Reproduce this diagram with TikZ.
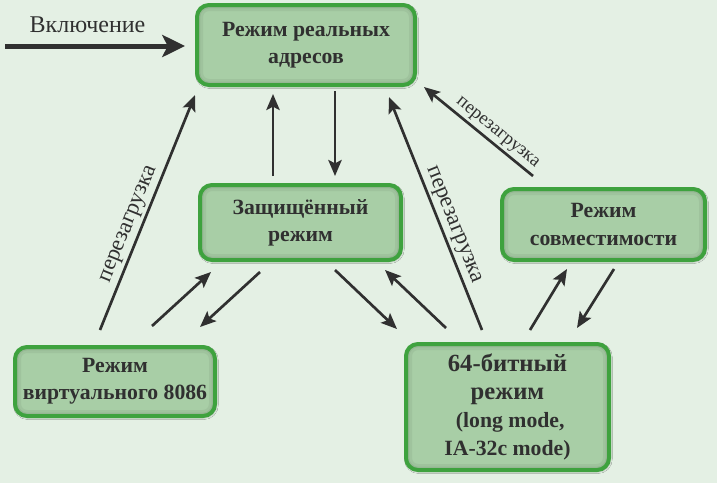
\documentclass[tikz,border=0pt]{standalone}
\usepackage{fontspec}
\setmainfont{Liberation Serif}
\usetikzlibrary{arrows.meta,shadows.blur}
\definecolor{bgc}{RGB}{228,240,228}
\definecolor{boxfill}{RGB}{168,206,166}
\definecolor{boxline}{RGB}{62,162,62}
\definecolor{ink}{RGB}{48,48,48}
\tikzset{
  modebox/.style={rectangle, rounded corners=9pt, draw=boxline, line width=3pt,
    fill=boxfill, align=center, text=ink, inner sep=0pt,
    font=\bfseries\fontsize{16.3}{20.3}\selectfont,
    execute at begin node={\rule{0pt}{20pt}},
    blur shadow={shadow xshift=0.6pt, shadow yshift=-0.8pt, shadow blur steps=6, shadow blur extra rounding=2pt, shadow opacity=45},
    path picture={
      \draw[line width=9pt, black, opacity=0.05, rounded corners=9pt] (path picture bounding box.south west) rectangle (path picture bounding box.north east);
      \draw[line width=5pt, black, opacity=0.06, rounded corners=9pt] (path picture bounding box.south west) rectangle (path picture bounding box.north east);
    }},
  conn/.style={draw=ink, line width=2pt, -{Stealth[length=12pt,width=10pt,inset=2.5pt]}},
  lbl/.style={text=ink, font=\fontsize{17}{20}\selectfont, inner sep=2pt},
}
\begin{document}
\begin{tikzpicture}[x=0.75pt,y=-0.75pt]
\fill[bgc] (0,0) rectangle (717,483);
\useasboundingbox (0,0) rectangle (717,483);

\node[modebox, minimum width=163.5pt, minimum height=60pt] (real) at (306,45) {Режим реальных\\адресов};
\node[modebox, minimum width=150.75pt, minimum height=56.25pt] (prot) at (300.5,222.5) {Защищённый\\режим};
\node[modebox, minimum width=152.25pt, minimum height=94.5pt, font=\bfseries\fontsize{18.5}{21}\selectfont] (b64) at (507.5,407) {64-битный\\режим\\ \fontsize{16.3}{21}\selectfont\ (long mode,\\ \fontsize{16.3}{21}\selectfont IA-32c mode)};
\node[modebox, minimum width=150pt, minimum height=51.75pt] (v86) at (115,381.5) {Режим\\виртуального 8086};
\node[modebox, minimum width=152.25pt, minimum height=53.25pt] (compat) at (603.5,224.5) {Режим\\совместимости};

\node[text=ink, font=\fontsize{18}{20}\selectfont, anchor=base] (on) at (87.5,32) {Включение};
\coordinate (start) at (5,46);
\draw[draw=ink, line width=3.75pt, -{Stealth[length=17pt,width=16.5pt,inset=4pt]}] (start) -- ([shift={(-10,1)}]real.west);

% v86 <-> real / prot
\draw[conn] ([shift={(-15,-15)}]v86.north) -- node[lbl, pos=0.43, sloped, above] (l1) {перезагрузка} ([shift={(-111,8)}]real.south);
\draw[conn] ([shift={(37,-19)}]v86.north) -- ([shift={(-89.5,10)}]prot.south);
\draw[conn] ([shift={(-40.5,10)}]prot.south) -- ([shift={(85,-18)}]v86.north);

% prot <-> real
\draw[conn] ([shift={(-27.5,-7)}]prot.north) -- ([shift={(-33,7)}]real.south);
\draw[conn] ([shift={(29,4)}]real.south) -- ([shift={(34.5,-7)}]prot.north);

% prot <-> b64
\draw[conn] ([shift={(34.5,8)}]prot.south) -- ([shift={(-110.5,-13)}]b64.north);
\draw[conn] ([shift={(-61.5,-14)}]b64.north) -- ([shift={(84.5,8)}]prot.south);

% b64 -> real
\draw[conn] ([shift={(-25.5,-12)}]b64.north) -- node[lbl, pos=0.43, sloped, above] (l2) {перезагрузка} ([shift={(83,10)}]real.south);

% compat -> real
\draw[conn] ([shift={(-70.5,-11)}]compat.north) -- node[lbl, font=\fontsize{14}{16}\selectfont, pos=0.39, sloped, above] (l3) {перезагрузка} ([shift={(7,0)}]real.south east);

% b64 <-> compat
\draw[conn] ([shift={(22.5,-12)}]b64.north) -- ([shift={(-36.5,7)}]compat.south);
\draw[conn] ([shift={(10.5,7)}]compat.south) -- ([shift={(69.5,-14)}]b64.north);
\end{tikzpicture}
\end{document}
